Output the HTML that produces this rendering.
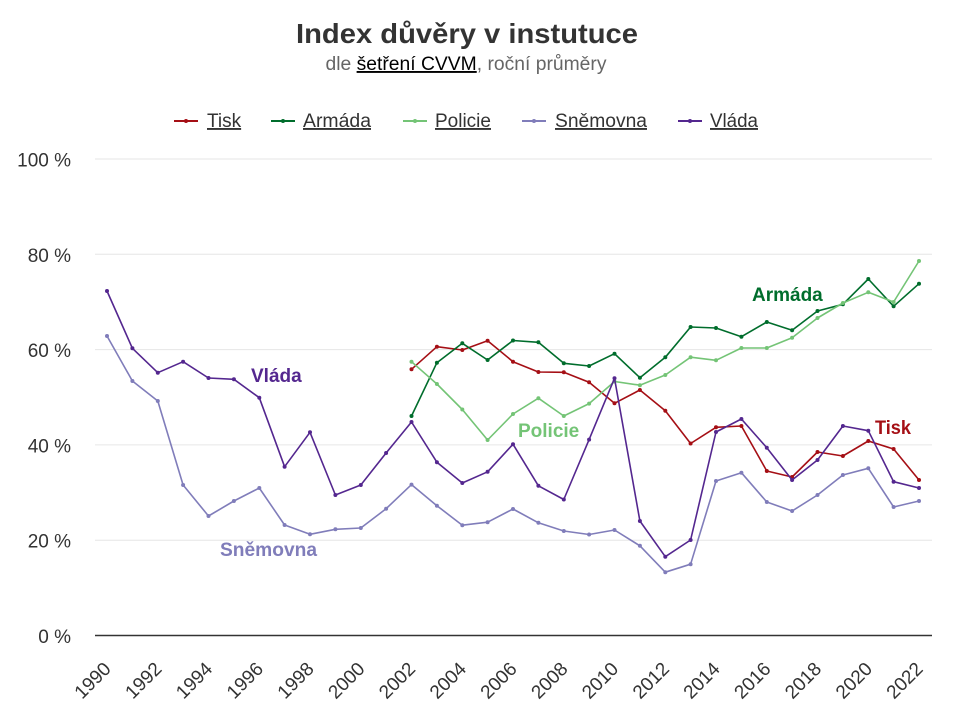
<!DOCTYPE html>
<html><head><meta charset="utf-8">
<style>
html,body{margin:0;padding:0;background:#fff;}
svg{display:block;font-family:"Liberation Sans",Arial,sans-serif;}
</style></head>
<body>
<svg width="954" height="718" viewBox="0 0 954 718" xmlns="http://www.w3.org/2000/svg">
<defs>
<marker id="mT" markerWidth="6" markerHeight="6" refX="3" refY="3" markerUnits="userSpaceOnUse"><circle cx="3" cy="3" r="2" fill="#a50f15"/></marker>
<marker id="mA" markerWidth="6" markerHeight="6" refX="3" refY="3" markerUnits="userSpaceOnUse"><circle cx="3" cy="3" r="2" fill="#006d2c"/></marker>
<marker id="mP" markerWidth="6" markerHeight="6" refX="3" refY="3" markerUnits="userSpaceOnUse"><circle cx="3" cy="3" r="2" fill="#74c476"/></marker>
<marker id="mS" markerWidth="6" markerHeight="6" refX="3" refY="3" markerUnits="userSpaceOnUse"><circle cx="3" cy="3" r="2" fill="#807dba"/></marker>
<marker id="mV" markerWidth="6" markerHeight="6" refX="3" refY="3" markerUnits="userSpaceOnUse"><circle cx="3" cy="3" r="2" fill="#54278f"/></marker>
</defs>
<rect width="954" height="718" fill="#fff"/>

<!-- Title -->
<text x="467" y="43" text-anchor="middle" font-size="28" font-weight="bold" fill="#333" textLength="342" lengthAdjust="spacingAndGlyphs">Index důvěry v instutuce</text>
<text x="466" y="70" text-anchor="middle" font-size="19" fill="#666" textLength="281" lengthAdjust="spacingAndGlyphs">dle <tspan fill="#000" text-decoration="underline">šetření CVVM</tspan>, roční průměry</text>

<!-- Legend -->
<g font-size="19" fill="#333" text-decoration="underline">
<line x1="174" y1="121" x2="198" y2="121" stroke="#a50f15" stroke-width="2"/><circle cx="186" cy="121" r="2" fill="#a50f15"/>
<text x="207" y="127">Tisk</text>
<line x1="271" y1="121" x2="295" y2="121" stroke="#006d2c" stroke-width="2"/><circle cx="283" cy="121" r="2" fill="#006d2c"/>
<text x="303" y="127" textLength="68" lengthAdjust="spacingAndGlyphs">Armáda</text>
<line x1="403" y1="121" x2="427" y2="121" stroke="#74c476" stroke-width="2"/><circle cx="415" cy="121" r="2" fill="#74c476"/>
<text x="435" y="127">Policie</text>
<line x1="522" y1="121" x2="546" y2="121" stroke="#807dba" stroke-width="2"/><circle cx="534" cy="121" r="2" fill="#807dba"/>
<text x="555" y="127" textLength="92" lengthAdjust="spacingAndGlyphs">Sněmovna</text>
<line x1="678" y1="121" x2="702" y2="121" stroke="#54278f" stroke-width="2"/><circle cx="690" cy="121" r="2" fill="#54278f"/>
<text x="710" y="127" textLength="48" lengthAdjust="spacingAndGlyphs">Vláda</text>
</g>

<!-- Grid -->
<g stroke="#e6e6e6" stroke-width="1">
<line x1="95" y1="159" x2="932" y2="159"/>
<line x1="95" y1="254.3" x2="932" y2="254.3"/>
<line x1="95" y1="349.6" x2="932" y2="349.6"/>
<line x1="95" y1="444.9" x2="932" y2="444.9"/>
<line x1="95" y1="540.2" x2="932" y2="540.2"/>
</g>
<line x1="95" y1="635.5" x2="932" y2="635.5" stroke="#333" stroke-width="1.5"/>

<!-- Y labels -->
<g font-size="19" fill="#333" text-anchor="end">
<text x="71" y="166.5">100 %</text>
<text x="71" y="261.8">80 %</text>
<text x="71" y="357.1">60 %</text>
<text x="71" y="452.4">40 %</text>
<text x="71" y="547.7">20 %</text>
<text x="71" y="643">0 %</text>
</g>

<!-- X labels -->
<g font-size="19" fill="#333" text-anchor="end">
<text x="112" y="670" transform="rotate(-45 112 670)">1990</text>
<text x="162.8" y="670" transform="rotate(-45 162.8 670)">1992</text>
<text x="213.5" y="670" transform="rotate(-45 213.5 670)">1994</text>
<text x="264.3" y="670" transform="rotate(-45 264.3 670)">1996</text>
<text x="315" y="670" transform="rotate(-45 315 670)">1998</text>
<text x="365.8" y="670" transform="rotate(-45 365.8 670)">2000</text>
<text x="416.5" y="670" transform="rotate(-45 416.5 670)">2002</text>
<text x="467.3" y="670" transform="rotate(-45 467.3 670)">2004</text>
<text x="518" y="670" transform="rotate(-45 518 670)">2006</text>
<text x="568.8" y="670" transform="rotate(-45 568.8 670)">2008</text>
<text x="619.5" y="670" transform="rotate(-45 619.5 670)">2010</text>
<text x="670.3" y="670" transform="rotate(-45 670.3 670)">2012</text>
<text x="721" y="670" transform="rotate(-45 721 670)">2014</text>
<text x="771.8" y="670" transform="rotate(-45 771.8 670)">2016</text>
<text x="822.5" y="670" transform="rotate(-45 822.5 670)">2018</text>
<text x="873.3" y="670" transform="rotate(-45 873.3 670)">2020</text>
<text x="924" y="670" transform="rotate(-45 924 670)">2022</text>
</g>

<!-- Series -->
<g fill="none" stroke-width="1.6" stroke-linejoin="round">
<!-- Tisk -->
<polyline stroke="#a50f15" marker-start="url(#mT)" marker-mid="url(#mT)" marker-end="url(#mT)" points="411.5,369.3 436.9,346.7 462.3,350 487.6,340.7 513,361.7 538.4,372 563.8,372.3 589.1,382.3 614.5,403.3 639.9,390 665.3,410.7 690.6,443.5 716,427.3 741.4,426 766.8,471 792.1,477 817.5,452 842.9,456 868.3,441 893.6,449 919,480"/>
<!-- Armáda -->
<polyline stroke="#006d2c" marker-start="url(#mA)" marker-mid="url(#mA)" marker-end="url(#mA)" points="411.5,416 436.9,362.7 462.3,343.3 487.6,360 513,340.5 538.4,342.3 563.8,363.3 589.1,366 614.5,353.7 639.9,377.7 665.3,357.3 690.6,327 716,328 741.4,336.7 766.8,322 792.1,330.3 817.5,311 842.9,304.3 868.3,279 893.6,306.3 919,283.7"/>
<!-- Policie -->
<polyline stroke="#74c476" marker-start="url(#mP)" marker-mid="url(#mP)" marker-end="url(#mP)" points="411.5,361.7 436.9,384 462.3,409.5 487.6,440 513,414 538.4,398.2 563.8,416 589.1,403.6 614.5,381.5 639.9,385.2 665.3,375 690.6,357.2 716,360.3 741.4,348 766.8,348 792.1,337.7 817.5,318 842.9,303 868.3,292.3 893.6,302 919,261"/>
<!-- Sněmovna -->
<polyline stroke="#807dba" marker-start="url(#mS)" marker-mid="url(#mS)" marker-end="url(#mS)" points="107,336 132.4,381 157.8,401 183.1,485 208.5,516 233.9,501 259.3,488 284.6,525 310,534.3 335.4,529.3 360.8,528 386.1,508.7 411.5,484.6 436.9,505.7 462.3,525.2 487.6,522.2 513,509 538.4,522.8 563.8,531 589.1,534.5 614.5,530 639.9,545.8 665.3,572.2 690.6,564.2 716,481 741.4,472.7 766.8,502 792.1,511 817.5,495 842.9,475 868.3,468.3 893.6,507 919,501"/>
<!-- Vláda -->
<polyline stroke="#54278f" marker-start="url(#mV)" marker-mid="url(#mV)" marker-end="url(#mV)" points="107,291 132.4,348.3 157.8,372.7 183.1,361.7 208.5,378 233.9,379.3 259.3,397.7 284.6,466.7 310,432.3 335.4,495 360.8,485 386.1,453 411.5,422 436.9,462.2 462.3,483 487.6,471.8 513,444.2 538.4,485.8 563.8,499.5 589.1,439.6 614.5,378.3 639.9,521 665.3,556.7 690.6,540 716,432 741.4,419 766.8,447.7 792.1,480 817.5,460 842.9,426 868.3,430.7 893.6,481.7 919,488"/>
</g>

<!-- Inline series labels -->
<g font-size="19" font-weight="bold">
<text x="251" y="382" fill="#54278f">Vláda</text>
<text x="220" y="556" fill="#807dba" textLength="97" lengthAdjust="spacingAndGlyphs">Sněmovna</text>
<text x="518" y="437" fill="#74c476">Policie</text>
<text x="752" y="301" fill="#006d2c">Armáda</text>
<text x="875" y="434" fill="#a50f15" textLength="36" lengthAdjust="spacingAndGlyphs">Tisk</text>
</g>
</svg>
</body></html>
